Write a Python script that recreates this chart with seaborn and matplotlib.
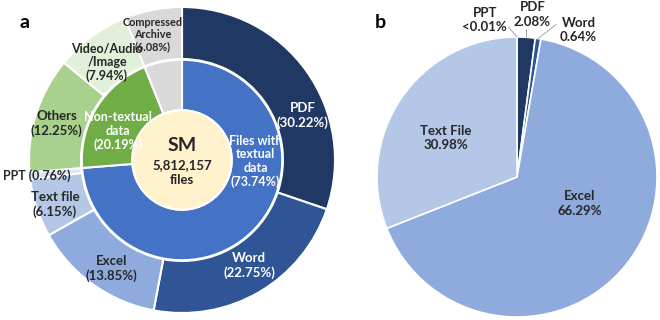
import numpy as np
import matplotlib
matplotlib.use("Agg")
import matplotlib.pyplot as plt
import seaborn as sns

sns.set_theme(style="white")
plt.rcParams['font.family'] = ['Lato', 'DejaVu Sans']

# ---- data: panel a ----
outer_labels = ["PDF\n(30.22%)", "Word\n(22.75%)", "Excel\n(13.85%)", "Text file\n(6.15%)",
                "PPT (0.76%)", "Others\n(12.25%)", "Video/Audio\n/Image\n(7.94%)",
                "Compressed\nArchive\n(6.08%)"]
outer_values = [30.22, 22.75, 13.85, 6.15, 0.76, 12.25, 7.94, 6.08]
outer_colors = ["#203864", "#2F5597", "#8FAADC", "#B4C7E7", "#DAE3F3",
                "#A9D18E", "#E2F0D9", "#D9D9D9"]
inner_labels = ["Files with\ntextual\ndata\n(73.74%)", "Non-textual\ndata\n(20.19%)", ""]
inner_values = [73.74, 20.19, 6.08]
inner_colors = ["#4472C4", "#70AD47", "#D9D9D9"]
center_lines = ["SM", "5,812,157", "files"]

# ---- data: panel b ----
b_labels = ["PPT\n<0.01%", "PDF\n2.08%", "Word\n0.64%", "Excel\n66.29%", "Text File\n30.98%"]
b_values = [0.01, 2.08, 0.64, 66.29, 30.98]
b_colors = ["#DAE3F3", "#203864", "#2F5597", "#8FAADC", "#B4C7E7"]

W, H = 660, 320
fig = plt.figure(figsize=(6.6, 3.2), dpi=100)
fig.patch.set_facecolor("white")

def px_axes(cx, cy, r):
    return fig.add_axes([(cx - r) / W, (H - cy - r) / H, 2 * r / W, 2 * r / H])

dark = "#262626"

# ---------- panel a ----------
axa = px_axes(182, 160, 153)
axa.pie(outer_values, radius=1.0, colors=outer_colors, startangle=90, counterclock=False,
        wedgeprops=dict(width=0.34, edgecolor="white", linewidth=1.5))
axa.pie(inner_values, radius=0.655, colors=inner_colors, startangle=90, counterclock=False,
        wedgeprops=dict(width=0.33, edgecolor="white", linewidth=1.5))
axa.add_patch(plt.Circle((0, 0), 0.325, facecolor="#FFF2CC", edgecolor="white", linewidth=1.5))
axa.set_xlim(-1, 1); axa.set_ylim(-1, 1); axa.set_aspect("equal"); axa.axis("off")

outer_pos = [(0.79, 0.29), (0.44, -0.69), (-0.46, -0.71), (-0.83, -0.29), (-0.95, -0.10),
             (-0.82, 0.24), (-0.49, 0.64), (-0.19, 0.82)]
outer_tc = ["white", "white", dark, dark, dark, dark, dark, dark]
outer_fs = [9.5, 9.5, 9.5, 9.5, 9, 9.5, 9, 7.8]
outer_ls = [1.25, 1.25, 1.25, 1.2, 1.0, 1.2, 1.15, 1.1]
for lab, (x, y), c, fs, ls in zip(outer_labels, outer_pos, outer_tc, outer_fs, outer_ls):
    axa.text(x, y, lab, ha="center", va="center", color=c, fontsize=fs, fontweight="bold",
             linespacing=ls, clip_on=False)
inner_pos = [(0.48, -0.01), (-0.42, 0.19), (0, 0)]
for lab, (x, y) in zip(inner_labels, inner_pos):
    if lab:
        axa.text(x, y, lab, ha="center", va="center", color="white", fontsize=9,
                 fontweight="bold", linespacing=1.15)
axa.text(0, 0.095, center_lines[0], ha="center", va="center", fontsize=14, fontweight="bold", color=dark)
axa.text(0, -0.03, center_lines[1], ha="center", va="center", fontsize=9.5, fontweight="bold", color=dark)
axa.text(0, -0.13, center_lines[2], ha="center", va="center", fontsize=9.5, fontweight="bold", color=dark)

# ---------- panel b ----------
axb = px_axes(517, 177, 140)
wedges, _ = axb.pie(b_values, radius=1.0, colors=b_colors, startangle=90, counterclock=False,
                    wedgeprops=dict(edgecolor="white", linewidth=1.2))
axb.set_xlim(-1, 1); axb.set_ylim(-1, 1); axb.set_aspect("equal"); axb.axis("off")

b_pos = [(-0.23, 1.12), (0.11, 1.16), (0.44, 1.05), (0.45, -0.19), (-0.51, 0.28)]
for i, (lab, (x, y)) in enumerate(zip(b_labels, b_pos)):
    axb.text(x, y, lab, ha="center", va="center", color=dark, fontsize=9.5, fontweight="bold",
             linespacing=1.25, clip_on=False)
    if i < 3:
        w = wedges[i]
        ang = np.deg2rad((w.theta1 + w.theta2) / 2)
        x0, y0 = np.cos(ang), np.sin(ang)
        if i == 0:
            x1, y1 = -0.06, 1.07
        elif i == 1:
            x1, y1 = x0, 1.06
        else:
            x1, y1 = 0.28, 1.09
        axb.plot([x0, x1], [y0, y1], color="#A6A6A6", lw=0.7, clip_on=False)

fig.text(25 / W, 1 - 22 / H, "a", fontsize=14, fontweight="bold", ha="center", va="center", color="black")
fig.text(380 / W, 1 - 23 / H, "b", fontsize=14, fontweight="bold", ha="center", va="center", color="black")

fig.savefig("out.png", dpi=100)
